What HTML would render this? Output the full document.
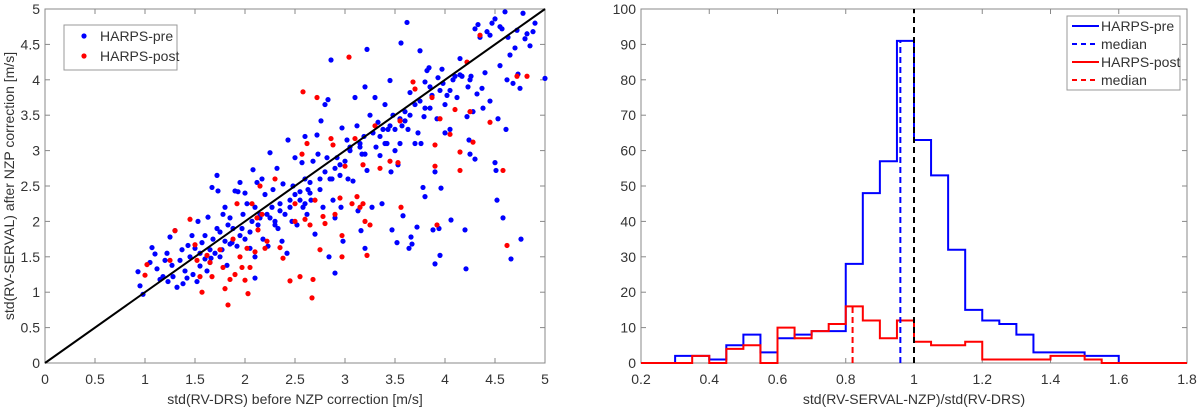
<!DOCTYPE html>
<html><head><meta charset="utf-8"><style>
body{margin:0;background:#fff;width:1200px;height:409px;overflow:hidden}
svg{display:block;font-family:"Liberation Sans",sans-serif}
text{fill:#333;font-size:14px}
</style></head><body>
<svg id="fig" width="1200" height="409"></svg>
<script>
// ---- scatter data ----
const preX=[0.93,0.95,0.98,1.05,1.07,1.1,1.12,1.15,1.18,1.2,1.22,1.23,1.25,1.27,1.28,1.3,1.32,1.35,1.37,1.38,1.4,1.42,1.43,1.45,1.47,1.48,1.5,1.52,1.53,1.55,1.57,1.6,1.6,1.62,1.63,1.65,1.66,1.67,1.68,1.7,1.72,1.72,1.73,1.75,1.77,1.78,1.8,1.8,1.82,1.83,1.85,1.87,1.88,1.9,1.92,1.93,1.95,1.97,1.98,2.0,2.0,2.02,2.05,2.07,2.08,2.1,2.1,2.12,2.13,2.15,2.17,2.18,2.2,2.22,2.23,2.25,2.27,2.28,2.3,2.32,2.33,2.35,2.37,2.38,2.4,2.42,2.43,2.45,2.47,2.48,2.5,2.5,2.52,2.55,2.57,2.58,2.6,2.6,2.62,2.63,2.65,2.66,2.68,2.7,2.72,2.73,2.75,2.76,2.78,2.8,2.8,2.82,2.83,2.84,2.86,2.87,2.88,2.9,2.9,2.92,2.95,2.96,2.97,2.98,3.0,3.02,3.03,3.05,3.08,3.1,3.12,3.13,3.15,3.16,3.17,3.19,3.2,3.2,3.22,3.22,3.25,3.27,3.28,3.3,3.31,3.33,3.35,3.37,3.38,3.4,3.42,3.43,3.45,3.46,3.47,3.48,3.5,3.5,3.52,3.53,3.55,3.56,3.57,3.58,3.6,3.62,3.63,3.64,3.65,3.66,3.67,3.7,3.72,3.73,3.75,3.76,3.78,3.79,3.8,3.8,3.82,3.84,3.85,3.87,3.88,3.9,3.9,3.92,3.93,3.94,3.95,3.96,3.97,3.98,4.0,4.02,4.05,4.06,4.08,4.1,4.12,4.15,4.17,4.2,4.21,4.22,4.23,4.24,4.25,4.26,4.28,4.3,4.3,4.32,4.33,4.35,4.37,4.38,4.4,4.42,4.45,4.47,4.5,4.5,4.51,4.52,4.53,4.55,4.57,4.58,4.6,4.61,4.62,4.63,4.65,4.66,4.68,4.7,4.72,4.73,4.75,4.76,4.78,4.8,4.82,4.85,4.88,4.9,5.0,1.75,1.85,2.05,2.15,2.25,2.35,2.45,2.55,2.65,2.75,2.85,2.95,3.05,3.15,3.35,3.45,3.55,3.65,3.75,3.85,3.95,4.05,4.15,4.25,4.45,4.55,1.55,1.65,1.95,2.1,2.3,2.6,2.9,3.2,3.4,3.6,3.7,3.8,4.0];
const preY=[1.29,1.09,0.97,1.42,1.63,1.54,1.33,1.18,1.22,1.45,1.55,1.15,1.78,1.38,1.22,1.87,1.07,1.45,1.6,1.12,1.3,1.2,1.66,1.5,1.8,1.25,1.62,1.15,2.0,1.55,1.7,1.47,1.8,1.3,2.06,1.6,1.48,2.48,1.75,1.55,2.65,1.9,2.43,1.85,1.6,2.1,1.72,2.2,1.38,1.95,2.05,1.7,1.9,2.43,1.65,2.42,2.55,1.9,2.1,2.4,1.75,2.25,1.85,2.0,2.73,2.2,1.2,2.55,1.95,2.05,2.6,1.75,2.38,2.1,1.65,2.97,2.2,2.45,2.0,2.75,1.9,2.25,1.72,2.53,2.1,1.55,3.15,2.3,2.0,2.5,2.9,2.38,1.95,2.42,2.83,2.2,3.2,2.6,2.1,2.45,2.55,2.3,2.85,1.82,3.22,2.95,2.45,3.42,2.2,2.7,3.65,2.9,3.72,1.5,4.28,2.6,2.3,2.05,1.27,2.9,2.65,2.2,3.32,1.72,2.85,3.15,2.6,3.05,2.57,3.75,3.35,2.15,3.1,1.87,2.95,3.2,1.62,3.9,4.43,2.72,3.5,2.2,3.25,3.75,3.05,3.4,2.93,2.25,3.3,3.65,3.1,3.3,3.99,2.7,1.88,3.5,3.0,3.3,1.7,2.8,3.1,4.52,3.35,2.08,3.55,4.81,3.3,1.62,3.82,1.78,1.68,3.65,1.92,3.25,4.41,3.1,2.48,3.48,2.35,3.97,4.13,4.17,3.6,3.78,1.88,1.4,2.7,3.45,4.03,1.9,1.52,2.47,4.15,3.95,3.25,3.78,3.3,2.02,4.0,4.05,3.75,4.3,4.05,1.88,1.33,3.48,3.9,3.15,2.95,4.05,3.55,4.72,2.88,3.8,4.78,4.6,3.88,3.6,4.1,4.68,3.7,4.8,4.86,2.83,2.72,2.3,3.45,4.2,4.72,2.05,4.96,3.3,4.0,4.6,4.35,1.47,3.95,4.45,4.7,4.08,3.88,1.75,4.94,4.58,4.65,4.48,4.68,4.8,4.02,1.5,1.68,1.62,2.1,2.05,2.15,2.2,2.3,2.4,2.6,2.6,2.8,3.0,3.05,3.2,3.35,3.45,3.5,3.7,3.9,3.85,3.85,4.07,4.0,4.63,4.75,1.37,1.42,1.8,1.5,1.95,2.25,2.75,2.95,3.1,3.42,3.1,3.6,3.65];
const postX=[1.0,1.02,1.25,1.3,1.45,1.5,1.52,1.55,1.57,1.62,1.65,1.67,1.75,1.78,1.8,1.83,1.85,1.88,1.9,1.92,1.95,1.97,2.0,2.02,2.03,2.05,2.07,2.1,2.12,2.13,2.15,2.17,2.2,2.22,2.3,2.35,2.38,2.45,2.5,2.5,2.55,2.57,2.58,2.6,2.62,2.65,2.67,2.68,2.7,2.72,2.75,2.78,2.8,2.86,2.88,2.9,2.95,2.97,2.97,3.0,3.04,3.07,3.1,3.15,3.18,3.2,3.22,3.25,3.3,3.35,3.45,3.53,3.55,3.56,3.68,3.7,3.87,3.9,3.9,3.92,3.95,4.05,4.1,4.15,4.15,4.22,4.25,4.28,4.35,4.45,4.58,4.62,4.72,4.82,3.12,3.18];
const postY=[1.24,1.39,1.45,1.87,2.03,1.67,1.45,1.22,1.0,1.52,1.42,1.22,1.6,1.35,1.05,0.82,1.18,1.75,1.25,2.25,1.5,1.35,1.17,1.62,0.98,1.35,2.25,1.57,2.05,1.88,2.5,2.1,1.62,1.72,2.6,1.63,1.48,1.16,2.0,2.25,1.22,2.95,3.83,2.03,3.1,1.95,0.92,1.18,2.3,3.75,1.6,2.07,1.97,3.17,3.08,2.1,2.33,1.8,1.5,2.78,4.32,2.25,3.17,2.2,2.8,2.0,1.52,1.95,3.35,2.75,2.85,2.83,3.42,2.2,3.97,3.87,3.75,3.08,2.78,1.95,3.45,3.23,3.58,2.98,2.72,4.25,3.55,3.12,4.63,3.4,2.72,1.66,4.05,4.05,2.35,2.25];
// ---- histogram data ----
const binEdges=[0.2,0.25,0.3,0.35,0.4,0.45,0.5,0.55,0.6,0.65,0.7,0.75,0.8,0.85,0.9,0.95,1.0,1.05,1.1,1.15,1.2,1.25,1.3,1.35,1.4,1.45,1.5,1.55,1.6,1.65,1.7,1.75,1.8];
const preCounts=[0,0,2,2,1,5,8,3,7,8,9,9,28,48,57,91,63,53,32,15,12,11,8,3,3,3,2,2,0,0,0,0];
const postCounts=[0,0,0,2,0,4,5,0,10,7,9,11,16,12,7,12,6,5,5,6,1,1,1,1,2,2,1,0,0,0,0,0];
const preMedian=0.96, postMedian=0.82, refLine=1.0;
const xTicksL=[0,0.5,1,1.5,2,2.5,3,3.5,4,4.5,5];
const yTicksL=[0,0.5,1,1.5,2,2.5,3,3.5,4,4.5,5];
const xTicksR=[0.2,0.4,0.6,0.8,1,1.2,1.4,1.6,1.8];
const yTicksR=[0,10,20,30,40,50,60,70,80,90,100];

const NS='http://www.w3.org/2000/svg';
const svg=document.getElementById('fig');
function mk(tag,attrs,parent){const e=document.createElementNS(NS,tag);for(const k in attrs)e.setAttribute(k,attrs[k]);(parent||svg).appendChild(e);return e;}
function txt(s,x,y,anchor,parent,extra){const t=mk('text',Object.assign({x:x,y:y,'text-anchor':anchor},extra||{}),parent);t.textContent=s;return t;}

// Left axes
const L={x0:45,x1:545,y0:363,y1:9};
const lx=v=>L.x0+(v-0)/5*(L.x1-L.x0);
const ly=v=>L.y0-(v-0)/5*(L.y0-L.y1);
const gL=mk('g',{});


mk('rect',{x:L.x0,y:L.y1,width:L.x1-L.x0,height:L.y0-L.y1,fill:'#fff',stroke:'#888','stroke-width':1},gL);
xTicksL.forEach(v=>{const x=lx(v);mk('line',{x1:x,x2:x,y1:L.y0,y2:L.y0-5,stroke:'#888'},gL);mk('line',{x1:x,x2:x,y1:L.y1,y2:L.y1+5,stroke:'#888'},gL);
 const t=txt(String(v),x,384,'middle',gL);});
yTicksL.forEach(v=>{const y=ly(v);mk('line',{x1:L.x0,x2:L.x0+5,y1:y,y2:y,stroke:'#888'},gL);mk('line',{x1:L.x1,x2:L.x1-5,y1:y,y2:y,stroke:'#888'},gL);
 const t=txt(String(v),L.x0-5,y+5,'end',gL);});
let t=txt('std(RV-DRS) before NZP correction [m/s]',(L.x0+L.x1)/2,404,'middle',gL,{'font-size':15});

t=txt('std(RV-SERVAL) after NZP correction [m/s]',0,0,'middle',gL,{'font-size':15,transform:'translate(14,'+((L.y0+L.y1)/2)+') rotate(-90)'});

preX.forEach((v,i)=>{const c=mk('circle',{cx:lx(v),cy:ly(preY[i]),r:2.6,fill:'#0000ff'},gL);
 });
postX.forEach((v,i)=>{const c=mk('circle',{cx:lx(v),cy:ly(postY[i]),r:2.6,fill:'#ff0000'},gL);
 });
let ln=mk('line',{x1:lx(0),y1:ly(0),x2:lx(5),y2:ly(5),stroke:'#000','stroke-width':2},gL);

// left legend
const lg=mk('g',{},gL);

mk('rect',{x:64,y:25,width:113,height:45,fill:'#fff',stroke:'#999'},lg);
mk('circle',{cx:84,cy:36,r:2.6,fill:'#0000ff'},lg);txt('HARPS-pre',100,41,'start',lg);
mk('circle',{cx:84,cy:56,r:2.6,fill:'#ff0000'},lg);txt('HARPS-post',100,61,'start',lg);

// Right axes
const R={x0:641,x1:1187,y0:363,y1:9};
const rx=v=>R.x0+(v-0.2)/1.6*(R.x1-R.x0);
const ry=v=>R.y0-v/100*(R.y0-R.y1);
const gR=mk('g',{});


mk('rect',{x:R.x0,y:R.y1,width:R.x1-R.x0,height:R.y0-R.y1,fill:'#fff',stroke:'#888'},gR);
xTicksR.forEach(v=>{const x=rx(v);mk('line',{x1:x,x2:x,y1:R.y0,y2:R.y0-5,stroke:'#888'},gR);mk('line',{x1:x,x2:x,y1:R.y1,y2:R.y1+5,stroke:'#888'},gR);
 const t=txt(String(v),x,384,'middle',gR);});
yTicksR.forEach(v=>{const y=ry(v);mk('line',{x1:R.x0,x2:R.x0+5,y1:y,y2:y,stroke:'#888'},gR);mk('line',{x1:R.x1,x2:R.x1-5,y1:y,y2:y,stroke:'#888'},gR);
 const t=txt(String(v),R.x0-5,y+5,'end',gR);});
t=txt('std(RV-SERVAL-NZP)/std(RV-DRS)',(R.x0+R.x1)/2,404,'middle',gR,{'font-size':15});

function stairs(counts){let d='M'+rx(binEdges[0])+','+ry(0);counts.forEach((c,i)=>{d+=' L'+rx(binEdges[i])+','+ry(c)+' L'+rx(binEdges[i+1])+','+ry(c);});d+=' L'+rx(binEdges[binEdges.length-1])+','+ry(0);return d;}
let p=mk('path',{d:stairs(preCounts),fill:'none',stroke:'#0000ff','stroke-width':2},gR);

p=mk('path',{d:stairs(postCounts),fill:'none',stroke:'#ff0000','stroke-width':2},gR);

function binCount(counts,v){for(let i=0;i<counts.length;i++){if(v>=binEdges[i]&&v<binEdges[i+1])return counts[i];}return 0;}
ln=mk('line',{x1:rx(preMedian),x2:rx(preMedian),y1:ry(0),y2:ry(binCount(preCounts,preMedian)),stroke:'#0000ff','stroke-width':2,'stroke-dasharray':'6,4'},gR);

ln=mk('line',{x1:rx(postMedian),x2:rx(postMedian),y1:ry(0),y2:ry(binCount(postCounts,postMedian)),stroke:'#ff0000','stroke-width':2,'stroke-dasharray':'6,4'},gR);

ln=mk('line',{x1:rx(refLine),x2:rx(refLine),y1:ry(0),y2:ry(100),stroke:'#000','stroke-width':2,'stroke-dasharray':'6,4'},gR);

const rg=mk('g',{},gR);

mk('rect',{x:1067,y:16,width:113,height:74,fill:'#fff',stroke:'#999'},rg);
[['HARPS-pre','#0000ff',null],['median','#0000ff','6,4'],['HARPS-post','#ff0000',null],['median','#ff0000','6,4']].forEach((e,i)=>{
 const y=26+i*18;const a={x1:1072,x2:1099,y1:y,y2:y,stroke:e[1],'stroke-width':2};if(e[2])a['stroke-dasharray']='5,4';
 mk('line',a,rg);txt(e[0],1101,y+5,'start',rg);});
</script>
</body></html>
